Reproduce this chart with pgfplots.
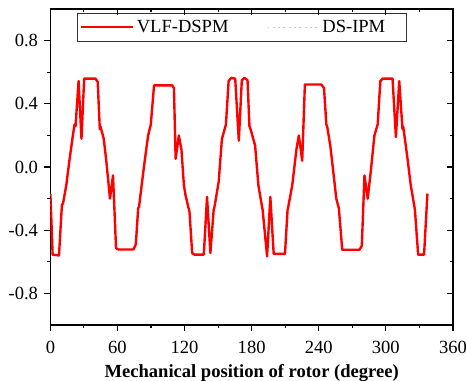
\documentclass[border=0pt]{standalone}
\usepackage{fontspec}
\setmainfont{Liberation Serif}
\usepackage{pgfplots}
\usepackage{pgfplotstable}
\pgfplotsset{compat=1.18}
\pgfplotstableread{
x y
0 -0.17
2.0 -0.555
7.7 -0.56
8.9 -0.41
10.3 -0.24
11.3 -0.23
14.2 -0.115
17.2 0.052
20.1 0.2
21.6 0.27
22.5 0.26
25.2 0.545
27.8 0.18
30.2 0.56
40.3 0.56
42.3 0.54
44.2 0.24
44.9 0.255
47.7 0.18
49.8 0.052
53.3 -0.2
56.0 -0.053
58.7 -0.513
60.7 -0.522
74.3 -0.522
76.4 -0.49
78.5 -0.262
79.3 -0.25
83.8 0.01
87.4 0.2
89.8 0.27
92.7 0.517
109 0.517
110.5 0.5
112 0.052
114.9 0.2
117.2 0.11
119.4 -0.115
120.9 -0.18
122.9 -0.24
124.4 -0.283
126.8 -0.545
128.9 -0.555
137.2 -0.555
140.1 -0.189
143.1 -0.545
146.0 -0.273
146.8 -0.25
150.5 -0.094
153.4 0.178
157.0 0.27
159.4 0.545
161.8 0.565
165.3 0.56
168.5 0.167
171.2 0.55
173.6 0.565
176.3 0.55
178.0 0.26
179.0 0.24
183.1 0.136
186.0 -0.115
189.0 -0.24
189.8 -0.27
193.8 -0.566
196.7 -0.189
199.7 -0.55
209.8 -0.55
212.1 -0.273
212.8 -0.25
216.3 -0.115
220.1 0.115
222.2 0.2
225.2 0.04
227.6 0.523
242.3 0.523
244.7 0.5
246.8 0.27
247.6 0.255
250.3 0.136
252.7 -0.01
255.7 -0.2
258.0 -0.262
261.0 -0.524
276.4 -0.524
278.5 -0.5
280.9 -0.053
283.8 -0.2
286.8 -0.01
289.8 0.2
292.7 0.27
295.1 0.545
297.2 0.56
306.0 0.56
309.0 0.19
312.0 0.545
314.9 0.24
315.6 0.255
319.4 0.052
322.3 -0.115
325.3 -0.24
326.0 -0.27
328.9 -0.555
334.2 -0.555
337.2 -0.168
}\vlfdata
\begin{document}
\fontsize{14}{16}\selectfont
\begin{tikzpicture}
\pgfplotsset{
  base/.style={
    scale only axis,
    width=303.75pt, height=238.3pt,
    xmin=0, xmax=360, ymin=-1, ymax=1,
    xtick={0,60,...,360},
    ytick={-0.8,-0.4,0,0.4,0.8},
    minor x tick num=1, minor y tick num=1,
    major tick length=4.5pt, minor tick length=2.5pt,
    every tick/.style={black, line width=0.9pt},
    every minor tick/.style={black, line width=0.8pt},
  }
}
\begin{axis}[base,
  axis line style={line width=1pt},
  tick align=outside,
  xtick pos=bottom, ytick pos=left,
  xticklabels={0,60,120,180,240,300,360},
  yticklabels={-0.8,-0.4,0.0,0.4,0.8},
  tick label style={font=\fontsize{14}{16}\selectfont},
  xticklabel style={yshift=-2.5pt},
  xlabel={\textbf{Mechanical position of rotor (degree)}},
  xlabel style={font=\fontsize{14}{16}\selectfont, yshift=1pt},
  legend columns=2,
  legend style={at={(rel axis cs:0.066,0.989)}, anchor=north west,
    draw=black!80, line width=0.7pt, font=\fontsize{14}{16}\selectfont,
    inner xsep=2pt, inner ysep=3pt,
    /tikz/every even column/.append style={column sep=27pt}},
  legend image code/.code={\draw[#1] (0pt,0pt) -- (39pt,0pt);},
]
\addplot[gray!40, line width=0.8pt, dash pattern=on 1.5pt off 2.5pt, forget plot] table[x=x,y=y] {\vlfdata};
\addplot[red, line width=1.8pt, line join=round] table[x=x,y=y] {\vlfdata};
\addlegendentry{VLF-DSPM}
\addlegendimage{gray!40, line width=0.8pt, dash pattern=on 1.5pt off 2.5pt}
\addlegendentry{DS-IPM\kern12pt}
\coordinate (BL) at (rel axis cs:-0.1252,-0.176);
\coordinate (TR) at (rel axis cs:1.0325,1.029);
\end{axis}
\begin{axis}[base,
  axis line style={draw=none},
  tick align=inside,
  xtick pos=top, ytick pos=right,
  xticklabels={}, yticklabels={},
]
\end{axis}
\pgfresetboundingbox
\useasboundingbox (BL) rectangle (TR);
\end{tikzpicture}
\end{document}
